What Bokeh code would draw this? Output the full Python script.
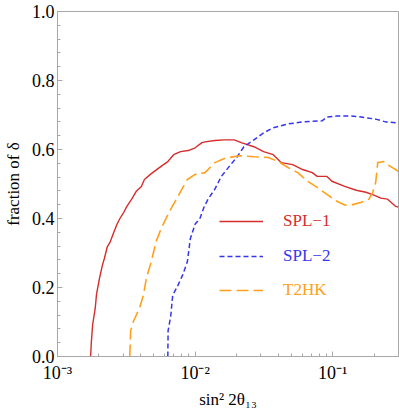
from bokeh.plotting import figure
from bokeh.models import (Range1d, FixedTicker, SingleIntervalTicker, PrintfTickFormatter,
                          CustomJSTickFormatter, Legend, LegendItem)
from bokeh.embed import file_html
from bokeh.resources import INLINE

# ---- data ----
spl1_x = [0.00174, 0.00176, 0.00180, 0.00188, 0.00192, 0.00202, 0.00212, 0.00219, 0.00230,
          0.00242, 0.00254, 0.00271, 0.00284, 0.00303, 0.00319, 0.00346, 0.00375, 0.00407,
          0.00428, 0.00480, 0.00565, 0.00633, 0.00698, 0.00783, 0.00891, 0.0100, 0.0112,
          0.0118, 0.0139, 0.0163, 0.0192, 0.0216, 0.0267, 0.0314, 0.0369, 0.0421, 0.0512,
          0.0603, 0.0709, 0.0770, 0.0906, 0.0984, 0.122, 0.148, 0.174, 0.199, 0.223, 0.250,
          0.284, 0.299]
spl1_y = [0.0, 0.04, 0.092, 0.14, 0.18, 0.227, 0.265, 0.284, 0.318,
          0.333, 0.356, 0.384, 0.40, 0.418, 0.435, 0.456, 0.48, 0.493,
          0.513, 0.53, 0.551, 0.565, 0.585, 0.594, 0.597, 0.605, 0.62,
          0.622, 0.626, 0.628, 0.628, 0.62, 0.608, 0.594, 0.585, 0.562, 0.556,
          0.542, 0.533, 0.522, 0.522, 0.508, 0.493, 0.482, 0.476, 0.468, 0.459, 0.456,
          0.436, 0.433]

spl2_x = [0.00633, 0.00636, 0.00665, 0.00687, 0.00745, 0.00809, 0.00878, 0.00922, 0.0100,
          0.0108, 0.0116, 0.0124, 0.0139, 0.0155, 0.0177, 0.0202, 0.0226, 0.0267, 0.0314,
          0.0369, 0.0472, 0.0603, 0.0835, 0.0906, 0.107, 0.136, 0.161, 0.205, 0.242, 0.299]
spl2_y = [0.0, 0.075, 0.118, 0.178, 0.204, 0.235, 0.275, 0.341, 0.384,
          0.399, 0.433, 0.456, 0.485, 0.522, 0.551, 0.579, 0.608, 0.628, 0.648,
          0.663, 0.674, 0.680, 0.683, 0.694, 0.697, 0.697, 0.694, 0.688, 0.680, 0.677]

t2hk_x = [0.00335, 0.00340, 0.00357, 0.00394, 0.00421, 0.00442, 0.00480, 0.00520, 0.00565,
          0.00612, 0.00665, 0.00745, 0.00822, 0.00878, 0.0100, 0.0118, 0.0139, 0.0163,
          0.0209, 0.0267, 0.0340, 0.0401, 0.0472, 0.0556, 0.0655, 0.0770, 0.0906, 0.107,
          0.122, 0.136, 0.161, 0.183, 0.195, 0.205, 0.212, 0.234, 0.262, 0.299]
t2hk_y = [0.0, 0.075, 0.103, 0.14, 0.178, 0.227, 0.275, 0.333, 0.37,
          0.399, 0.427, 0.462, 0.493, 0.513, 0.528, 0.533, 0.562, 0.574,
          0.582, 0.579, 0.577, 0.565, 0.548, 0.533, 0.508, 0.49, 0.47, 0.45,
          0.439, 0.439, 0.447, 0.456, 0.476, 0.505, 0.562, 0.565, 0.551, 0.537]

series_labels = ["SPL\u22121", "SPL\u22122", "T2HK"]
x_major_ticks = [1e-3, 1e-2, 1e-1]
x_minor_ticks = [k * 10.0 ** e for e in (-3, -2, -1) for k in range(2, 10) if k * 10.0 ** e <= 0.3]

RED = "#d62c2c"
BLUE = "#3535ee"
ORANGE = "#ffa01c"
GRAY = "#a8a8a8"
FONT = "'Liberation Serif', 'Times New Roman', serif"

p = figure(width=399, height=411, x_axis_type="log",
           x_range=Range1d(1e-3, 0.3), y_range=Range1d(0, 1),
           output_backend="svg", toolbar_location=None,
           min_border_left=49, min_border_right=1, min_border_top=11, min_border_bottom=52)
p.xgrid.visible = False
p.ygrid.visible = False
p.outline_line_color = GRAY
p.outline_line_width = 1
p.background_fill_color = "white"
p.border_fill_color = "white"

r1 = p.line(spl1_x, spl1_y, line_color=RED, line_width=1.4)
r2 = p.line(spl2_x, spl2_y, line_color=BLUE, line_width=1.5, line_dash="5 3")
r3 = p.line(t2hk_x, t2hk_y, line_color=ORANGE, line_width=1.6, line_dash="12 5")

# axes
p.xaxis.ticker = FixedTicker(ticks=x_major_ticks, minor_ticks=x_minor_ticks)
p.xaxis.formatter = CustomJSTickFormatter(code="""
const e = Math.round(Math.log10(tick));
const sup = {"-": "\u207b", "0": "\u2070", "1": "\u00b9", "2": "\u00b2", "3": "\u00b3",
             "4": "\u2074", "5": "\u2075", "6": "\u2076", "7": "\u2077", "8": "\u2078", "9": "\u2079"};
return "10" + String(e).split("").map(c => sup[c]).join("");
""")
p.yaxis.ticker = SingleIntervalTicker(interval=0.2, num_minor_ticks=5)
p.yaxis.formatter = PrintfTickFormatter(format="%.1f")

for ax in (p.xaxis[0], p.yaxis[0]):
    ax.axis_line_color = GRAY
    ax.major_tick_line_color = GRAY
    ax.minor_tick_line_color = GRAY
    ax.major_tick_in = 5
    ax.major_tick_out = 0
    ax.minor_tick_in = 3
    ax.minor_tick_out = 0
    ax.major_label_text_font = FONT
    ax.major_label_text_font_size = "18px"
    ax.major_label_text_color = "black"
    ax.axis_label_text_font = FONT
    ax.axis_label_text_font_size = "17px"
    ax.axis_label_text_font_style = "normal"
    ax.axis_label_text_color = "black"

p.xaxis.axis_label = "sin\u00b2 2\u03b8\u2081\u2083"
p.yaxis.axis_label = "fraction of \u03b4"
p.xaxis.major_label_standoff = 6
p.xaxis.axis_label_standoff = 4
p.yaxis.major_label_standoff = 3
p.yaxis.axis_label_standoff = 6

# legends (one per series so each label keeps its own colour)
for r, lab, col, ly in [(r1, series_labels[0], RED, 125),
                        (r2, series_labels[1], BLUE, 90),
                        (r3, series_labels[2], ORANGE, 56)]:
    leg = Legend(items=[LegendItem(label=lab, renderers=[r])], location=(162, ly),
                 padding=0, margin=0, spacing=0, border_line_color=None,
                 background_fill_alpha=0, glyph_width=44, glyph_height=20,
                 label_height=20, label_standoff=20,
                 label_text_font=FONT, label_text_font_size="17px",
                 label_text_color=col)
    p.add_layout(leg)

open("out.html", "w").write(file_html(p, INLINE))
